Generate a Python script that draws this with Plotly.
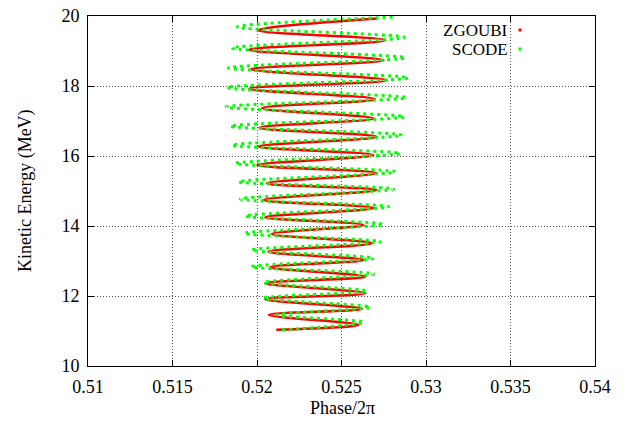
import plotly.graph_objects as go

# Turning points of the phase oscillation (phase/2pi, kinetic energy in MeV),
# listed from injection upward.
zgoubi_phase = [0.52114, 0.52601, 0.52069, 0.52621, 0.52049, 0.52641, 0.52049, 0.52641,
                0.52079, 0.52631, 0.52069, 0.52680, 0.52089, 0.52629, 0.52049, 0.52689,
                0.52039, 0.52706, 0.52059, 0.52710, 0.52002, 0.52689, 0.52008, 0.52710,
                0.52014, 0.52690, 0.52031, 0.52697, 0.51954, 0.52769, 0.51966, 0.52749,
                0.51954, 0.52761, 0.52008, 0.52710]
zgoubi_energy = [11.033, 11.175, 11.461, 11.632, 11.909, 12.080, 12.365, 12.554,
                 12.822, 13.030, 13.267, 13.506, 13.772, 14.029, 14.248, 14.514,
                 14.742, 15.027, 15.218, 15.512, 15.740, 16.026, 16.268, 16.548,
                 16.810, 17.073, 17.367, 17.623, 17.923, 18.165, 18.479, 18.736,
                 19.036, 19.307, 19.592, 19.926]

scode_phase = [0.52148, 0.52631, 0.52118, 0.52670, 0.52039, 0.52651, 0.52039, 0.52690,
               0.51966, 0.52690, 0.51970, 0.52730, 0.51925, 0.52749, 0.51931, 0.52779,
               0.51901, 0.52808, 0.51891, 0.52818, 0.51872, 0.52848, 0.51852, 0.52858,
               0.51842, 0.52872, 0.51817, 0.52883, 0.51822, 0.52895, 0.51830, 0.52877,
               0.51852, 0.52872, 0.51882, 0.52818]
scode_energy = [11.033, 11.253, 11.461, 11.681, 11.937, 12.146, 12.382, 12.630,
                12.839, 13.078, 13.315, 13.552, 13.792, 14.049, 14.285, 14.551,
                14.770, 15.056, 15.264, 15.549, 15.789, 16.074, 16.311, 16.596,
                16.853, 17.118, 17.404, 17.666, 17.957, 18.231, 18.516, 18.807,
                19.087, 19.392, 19.686, 19.971]

x_ticks = [0.51, 0.515, 0.52, 0.525, 0.53, 0.535, 0.54]
x_tick_labels = ["0.51", "0.515", "0.52", "0.525", "0.53", "0.535", "0.54"]
y_ticks = [10, 12, 14, 16, 18, 20]

series_names = ["ZGOUBI", "SCODE"]
red = "#ff0000"
green = "#00ff00"
FONT = "Liberation Serif, Times New Roman, serif"
FS = 18
KEY_FS = 17

fig = go.Figure()
fig.add_trace(go.Scatter(
    x=zgoubi_phase, y=zgoubi_energy, mode="lines", name=series_names[0],
    line=dict(color=red, width=2.5, shape="spline", smoothing=1),
    showlegend=False,
))
fig.add_trace(go.Scatter(
    x=scode_phase, y=scode_energy, mode="lines", name=series_names[1],
    line=dict(color=green, width=3, shape="spline", smoothing=1, dash="3px,4px"),
    showlegend=False,
))

L, R, T, B = 88, 35, 16, 59
W, H = 630, 425
pw, ph = W - L - R, H - T - B


def px_to_paper(px, py):
    return (px - L) / pw, 1 - (py - T) / ph


axis_common = dict(
    showline=True, linecolor="black", linewidth=1, mirror="ticks",
    ticks="inside", ticklen=6, tickcolor="black",
    showgrid=True, gridcolor="#555555", gridwidth=1, griddash="1px,2px",
    zeroline=False, automargin=False,
    tickfont=dict(family=FONT, size=FS, color="black"),
)

fig.update_xaxes(
    range=[0.51, 0.54], tickvals=x_ticks, ticktext=x_tick_labels,
    ticklabelstandoff=4,
    **axis_common,
)
fig.update_yaxes(
    range=[10, 20], tickvals=y_ticks, ticklabelstandoff=4,
    **axis_common,
)

annotations = []
# axis titles placed in pixel terms
tx, ty = px_to_paper(342, 408)
annotations.append(dict(x=tx, y=ty, xref="paper", yref="paper", text="Phase/2π",
                        showarrow=False, xanchor="center", yanchor="middle",
                        font=dict(family=FONT, size=FS, color="black")))
tx, ty = px_to_paper(25, 191)
annotations.append(dict(x=tx, y=ty, xref="paper", yref="paper", text="Kinetic Energy (MeV)",
                        showarrow=False, xanchor="center", yanchor="middle", textangle=-90,
                        font=dict(family=FONT, size=FS, color="black")))

# key in the upper right corner: label text followed by a point sample
shapes = []
for name, color, py in [(series_names[0], red, 30), (series_names[1], green, 49)]:
    ax, ay = px_to_paper(509, py)
    annotations.append(dict(
        x=ax, y=ay, xref="paper", yref="paper", text=name, showarrow=False,
        xanchor="right", yanchor="middle", borderpad=0,
        font=dict(family=FONT, size=KEY_FS, color="black"),
    ))
    sx, sy = px_to_paper(520, py)
    dx, dy = 1.5 / pw, 1.5 / ph
    shapes.append(dict(
        type="rect", xref="paper", yref="paper",
        x0=sx - dx, x1=sx + dx, y0=sy - dy, y1=sy + dy,
        fillcolor=color, line=dict(width=0),
    ))

fig.update_layout(
    width=W, height=H,
    margin=dict(l=L, r=R, t=T, b=B, pad=0, autoexpand=False),
    plot_bgcolor="white", paper_bgcolor="white",
    annotations=annotations, shapes=shapes,
    font=dict(family=FONT, color="black"),
)

fig.write_html("out.html")
